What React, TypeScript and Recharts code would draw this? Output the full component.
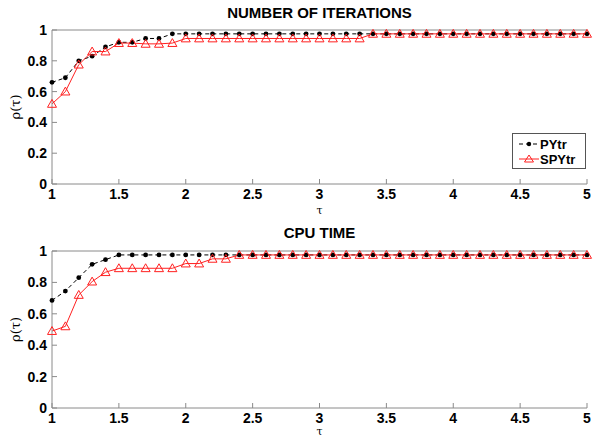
import React from "react";
import { LineChart, Line, XAxis, YAxis, Label } from "recharts";

const TAU = [1.0, 1.1, 1.2, 1.3, 1.4, 1.5, 1.6, 1.7, 1.8, 1.9, 2.0, 2.1, 2.2, 2.3, 2.4, 2.5, 2.6, 2.7, 2.8, 2.9, 3.0, 3.1, 3.2, 3.3, 3.4, 3.5, 3.6, 3.7, 3.8, 3.9, 4.0, 4.1, 4.2, 4.3, 4.4, 4.5, 4.6, 4.7, 4.8, 4.9, 5.0];

const ITER_PY = [0.66, 0.69, 0.8, 0.83, 0.89, 0.92, 0.92, 0.945, 0.945, 0.975, 0.975, 0.975, 0.975, 0.975, 0.975, 0.975, 0.975, 0.975, 0.975, 0.975, 0.975, 0.975, 0.975, 0.975, 0.975, 0.975, 0.975, 0.975, 0.975, 0.975, 0.975, 0.975, 0.975, 0.975, 0.975, 0.975, 0.975, 0.975, 0.975, 0.975, 0.975];
const ITER_SPY = [0.52, 0.6, 0.775, 0.86, 0.86, 0.915, 0.915, 0.91, 0.91, 0.915, 0.945, 0.945, 0.945, 0.945, 0.945, 0.945, 0.945, 0.945, 0.945, 0.945, 0.945, 0.945, 0.945, 0.945, 0.975, 0.975, 0.975, 0.975, 0.975, 0.975, 0.975, 0.975, 0.975, 0.975, 0.975, 0.975, 0.975, 0.975, 0.975, 0.975, 0.975];

const CPU_PY = [0.685, 0.745, 0.83, 0.915, 0.945, 0.975, 0.975, 0.975, 0.975, 0.975, 0.975, 0.975, 0.975, 0.975, 0.975, 0.975, 0.975, 0.975, 0.975, 0.975, 0.975, 0.975, 0.975, 0.975, 0.975, 0.975, 0.975, 0.975, 0.975, 0.975, 0.975, 0.975, 0.975, 0.975, 0.975, 0.975, 0.975, 0.975, 0.975, 0.975, 0.975];
const CPU_SPY = [0.49, 0.52, 0.72, 0.805, 0.865, 0.89, 0.89, 0.89, 0.89, 0.89, 0.92, 0.92, 0.95, 0.95, 0.975, 0.975, 0.975, 0.975, 0.975, 0.975, 0.975, 0.975, 0.975, 0.975, 0.975, 0.975, 0.975, 0.975, 0.975, 0.975, 0.975, 0.975, 0.975, 0.975, 0.975, 0.975, 0.975, 0.975, 0.975, 0.975, 0.975];

const X_TICKS = [1, 1.5, 2, 2.5, 3, 3.5, 4, 4.5, 5];
const Y_TICKS = [0, 0.2, 0.4, 0.6, 0.8, 1];
const SERIES_NAMES = ["PYtr", "SPYtr"];

const iterData = TAU.map((t, i) => ({ t, py: ITER_PY[i], spy: ITER_SPY[i] }));
const cpuData = TAU.map((t, i) => ({ t, py: CPU_PY[i], spy: CPU_SPY[i] }));

const FONT = "'Liberation Sans', Arial, sans-serif";
const FRAME = "#8a8a8a";

const Tri = (props: any) => {
  const { cx, cy } = props;
  if (cx == null || cy == null) return null;
  const s = 4.5;
  return (
    <path
      d={`M${cx},${cy - s} L${cx + s},${cy + s * 0.75} L${cx - s},${cy + s * 0.75} Z`}
      fill="none"
      stroke="#ff2020"
      strokeWidth={1}
    />
  );
};

const Dot = (props: any) => {
  const { cx, cy } = props;
  if (cx == null || cy == null) return null;
  return <circle cx={cx} cy={cy} r={2.4} fill="#000" />;
};

const tickStyle = { fontFamily: FONT, fontWeight: 700, fontSize: 14, fill: "#000" };

function Panel({ data, title, top, height, bottomH, tauOffset, legend }: any) {
  return (
    <div style={{ position: "absolute", left: 0, top, width: 594, height }}>
      <LineChart width={594} height={height} data={data} margin={{ top: 0, right: 7, bottom: 0, left: 0 }}>
        <XAxis
          dataKey="t"
          type="number"
          domain={[1, 5]}
          ticks={X_TICKS}
          interval={0}
          height={bottomH}
          stroke={FRAME}
          tickSize={-5}
          tickMargin={10}
          tick={tickStyle}
          tickLine={{ stroke: FRAME }}
        >
          <Label value="τ" position="insideBottom" offset={tauOffset} style={{ fontFamily: "'DejaVu Serif', serif", fontSize: 11, fill: "#000" }} />
        </XAxis>
        <XAxis
          xAxisId="top"
          dataKey="t"
          type="number"
          domain={[1, 5]}
          orientation="top"
          ticks={X_TICKS}
          height={top === 0 ? 30 : 31}
          stroke={FRAME}
          tickSize={-5}
          tick={false}
          tickLine={{ stroke: FRAME }}
        />
        <YAxis
          domain={[0, 1]}
          ticks={Y_TICKS}
          width={52}
          stroke={FRAME}
          tickSize={-5}
          tickMargin={10}
          tick={tickStyle}
          tickLine={{ stroke: FRAME }}
          tickFormatter={(v: number) => String(v)}
        >
          <Label value="ρ(τ)" angle={-90} position="insideLeft" offset={15} style={{ fontFamily: "'DejaVu Serif', serif", fontSize: 13, fill: "#000", textAnchor: "middle" }} />
        </YAxis>
        <YAxis
          yAxisId="r"
          orientation="right"
          domain={[0, 1]}
          ticks={Y_TICKS}
          width={0}
          stroke={FRAME}
          tickSize={-5}
          tick={false}
          tickLine={{ stroke: FRAME }}
        />
        <Line
          dataKey="py"
          stroke="#000"
          strokeWidth={1}
          strokeDasharray="4 3"
          dot={<Dot />}
          isAnimationActive={false}
        />
        <Line
          dataKey="spy"
          stroke="#ff2020"
          strokeWidth={1}
          dot={<Tri />}
          isAnimationActive={false}
        />
      </LineChart>
      <div
        style={{
          position: "absolute",
          left: 52,
          width: 535,
          top: 5,
          textAlign: "center",
          fontFamily: FONT,
          fontWeight: 700,
          fontSize: 15,
          lineHeight: "16px",
        }}
      >
        {title}
      </div>
      {legend && (
        <div
          style={{
            position: "absolute",
            left: 512,
            top: 133,
            width: 72,
            height: 34,
            border: `1px solid #555`,
            background: "#fff",
            fontFamily: FONT,
            fontWeight: 700,
            fontSize: 13,
          }}
        >
          <svg width={72} height={34} style={{ position: "absolute", left: 0, top: 0 }}>
            <line x1={6} y1={10} x2={26} y2={10} stroke="#000" strokeDasharray="4 3" />
            <circle cx={16} cy={10} r={2.2} fill="#000" />
            <line x1={6} y1={25} x2={26} y2={25} stroke="#ff2020" />
            <path d="M16,21 L20.5,28 L11.5,28 Z" fill="none" stroke="#ff2020" />
            <text x={27} y={15} style={{ fontFamily: FONT, fontWeight: 700, fontSize: 13 }}>{SERIES_NAMES[0]}</text>
            <text x={27} y={30} style={{ fontFamily: FONT, fontWeight: 700, fontSize: 13 }}>{SERIES_NAMES[1]}</text>
          </svg>
        </div>
      )}
    </div>
  );
}

export default function App() {
  return (
    <div style={{ position: "absolute", left: 0, top: 0, width: 594, height: 440, background: "#fff" }}>
      <Panel data={iterData} title="NUMBER OF ITERATIONS" top={0} height={220} bottomH={36} tauOffset={6} legend />
      <Panel data={cpuData} title="CPU TIME" top={220} height={220} bottomH={32} tauOffset={5} legend={false} />
    </div>
  );
}
